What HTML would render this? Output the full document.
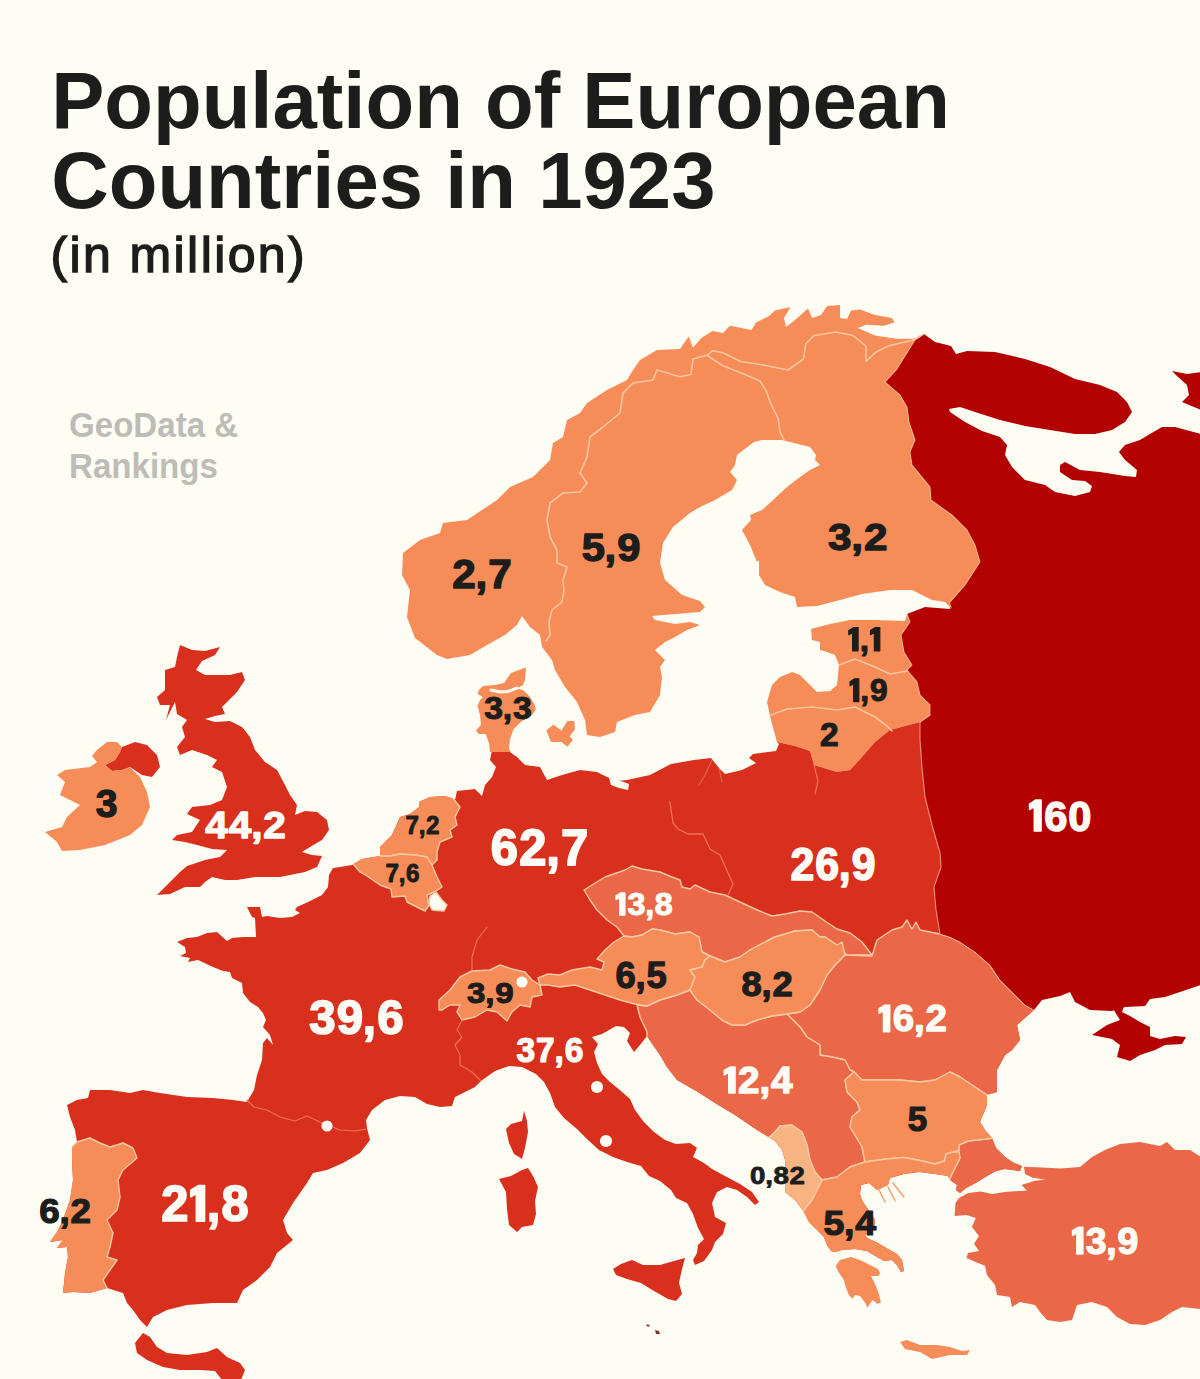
<!DOCTYPE html>
<html><head><meta charset="utf-8"><title>Population of European Countries in 1923</title>
<style>
html,body{margin:0;padding:0;background:#FEFDF4;}
body{width:1200px;height:1379px;position:relative;overflow:hidden;font-family:"Liberation Sans",sans-serif;}
svg text{font-family:"Liberation Sans",sans-serif;font-weight:bold;}
.t1{position:absolute;left:51.2px;top:61.4px;font-size:79.7px;line-height:80px;font-weight:bold;color:#1d1d1b;white-space:nowrap;letter-spacing:0px;}
.t2{position:absolute;left:50.5px;top:226.5px;font-size:50px;line-height:56px;color:#1d1d1b;white-space:nowrap;-webkit-text-stroke:1.4px #1d1d1b;letter-spacing:2.4px;}
.wm{position:absolute;left:69px;top:404.5px;font-size:34.6px;line-height:41px;font-weight:bold;color:#bebcb6;white-space:nowrap;transform-origin:0 0;transform:scaleX(0.957);}
</style></head><body>
<svg width="1200" height="1379" viewBox="0 0 1200 1379" style="position:absolute;left:0;top:0">
<defs><clipPath id="ml"><path d="M777 742 L795 746 L810 751 L814 765 L837 772 L850 770 L862 757 L875 742 L890 730 L920 722 L920 722 L920 740 L922 768 L925 797 L932 825 L940 853 L941 867 L934 887 L936 910 L940 934 L940 934 L950 937 L960 942 L975 952 L990 965 L1000 980 L1012 992 L1025 1005 L1034 1010 L1017 1025 L1020 1040 L1012 1050 L1005 1055 L997 1070 L997 1092 L987 1095 L987 1105 L980 1122 L985 1130 L992 1138 L996 1148 L1005 1157 L1014 1163 L1022 1166 L1020 1171 L1005 1169 L996 1171 L987 1176 L979 1181 L972 1185 L966 1188 L960 1193 L956 1190 L957 1185 L950 1180 L948 1176 L935 1174 L919 1172 L904 1174 L890 1178 L888 1185 L877 1190 L869 1183 L861 1185 L860 1194 L862 1200 L865 1205 L870 1212 L875 1220 L874 1228 L868 1234 L865 1235 L867 1238 L878 1243 L888 1249 L897 1254 L902 1260 L904 1271 L901 1272 L897 1265 L892 1260 L884 1261 L877 1257 L867 1251 L855 1249 L842 1250 L835 1252 L831 1251 L827 1245 L824 1237 L817 1230 L809 1222 L804 1212 L795 1200 L785 1192 L786 1180 L785 1160 L782 1150 L775 1141 L757 1130 L735 1115 L715 1103 L698 1092 L677 1080 L667 1067 L660 1055 L653 1045 L647 1036 L640 1045 L634 1052 L627 1041 L630 1033 L624 1027 L616 1026 L602 1034 L592 1037 L598 1044 L594 1052 L597 1063 L602 1074 L610 1082 L621 1091 L630 1099 L635 1110 L643 1121 L654 1132 L665 1140 L676 1144 L690 1143 L697 1148 L693 1157 L704 1163 L712 1169 L725 1176 L740 1184 L752 1192 L759 1202 L755 1205 L747 1197 L737 1190 L727 1187 L717 1192 L712 1203 L715 1217 L726 1223 L723 1234 L715 1242 L712 1250 L704 1261 L695 1265 L693 1260 L697 1253 L698 1245 L704 1239 L698 1228 L693 1214 L687 1203 L676 1198 L671 1190 L660 1181 L649 1176 L641 1166 L627 1162 L613 1157 L599 1150 L588 1140 L577 1129 L564 1118 L555 1107 L550 1093 L544 1082 L536 1074 L522 1067 L509 1066 L495 1071 L481 1081 L475 1087 L465 1092 L455 1097 L452 1106 L440 1107 L427 1104 L415 1097 L400 1096 L385 1100 L372 1110 L366 1120 L367 1128 L370 1140 L360 1153 L343 1163 L327 1170 L313 1173 L307 1183 L293 1203 L283 1220 L287 1233 L293 1240 L277 1253 L270 1267 L257 1280 L243 1290 L237 1303 L213 1303 L187 1305 L167 1310 L153 1317 L147 1327 L140 1320 L133 1310 L127 1303 L123 1293 L107 1288 L90 1293 L73 1292 L63 1293 L65 1273 L68 1257 L67 1247 L57 1248 L63 1240 L50 1242 L57 1232 L63 1220 L70 1200 L73 1180 L72 1160 L72 1147 L77 1142 L75 1130 L70 1117 L67 1105 L77 1100 L88 1098 L90 1090 L110 1090 L130 1093 L143 1090 L160 1093 L187 1097 L213 1098 L233 1100 L247 1102 L254 1090 L257 1075 L262 1060 L263 1043 L267 1038 L273 1045 L270 1035 L263 1027 L266 1020 L263 1013 L258 1007 L250 1002 L243 993 L242 983 L232 978 L230 972 L223 971 L213 967 L198 960 L188 962 L190 958 L180 956 L186 953 L185 947 L177 942 L187 938 L197 937 L207 933 L217 932 L227 941 L232 938 L243 937 L256 937 L255 918 L252 917 L247 907 L260 907 L262 917 L267 916 L280 918 L292 917 L300 913 L295 910 L297 907 L308 902 L322 895 L328 887 L329 875 L333 868 L340 867 L352 865 L362 859 L380 856 L380 847 L392 835 L400 817 L410 814 L419 807 L419 802 L430 797 L445 796 L457 800 L460 807 L455 800 L457 791 L475 789 L482 796 L485 785 L492 777 L496 767 L490 760 L492 750 L507 750 L517 757 L525 765 L540 767 L547 780 L562 775 L580 770 L597 772 L607 777 L617 781 L627 780 L650 775 L671 764 L694 760 L711 758 L719 768 L725 774 L742 770 L756 763 L749 758 L753 754 L776 751 L779 744Z"/></clipPath></defs>
<path d="M924 334 L935 342 L951 346 L956 354 L967 351 L995 352 L1025 359 L1050 367 L1075 379 L1100 385 L1117 392 L1127 402 L1132 412 L1125 422 L1112 430 L1095 434 L1075 434 L1050 430 L1025 426 L1000 420 L975 412 L960 407 L949 409 L950 412 L965 422 L982 431 L1000 437 L1007 445 L1005 455 L1012 467 L1025 480 L1045 485 L1055 492 L1075 496 L1090 492 L1092 486 L1085 481 L1072 480 L1060 472 L1060 465 L1065 462 L1080 470 L1100 472 L1125 476 L1136 477 L1137 470 L1125 460 L1119 452 L1125 445 L1140 440 L1150 434 L1162 427 L1175 427 L1201 434 L1201 985 L1180 992 L1165 997 L1150 999 L1145 1006 L1125 1007 L1112 1011 L1090 1010 L1075 1002 L1070 992 L1060 996 L1042 1000 L1034 1010 L1025 1005 L1012 992 L1000 980 L990 965 L975 952 L960 942 L950 937 L940 934 L936 910 L934 887 L941 867 L940 853 L932 825 L925 797 L922 768 L920 740 L920 722 L930 715 L930 705 L920 695 L917 682 L907 670 L912 665 L904 652 L901 635 L910 622 L907 614 L925 607 L950 609 L950 602 L965 585 L980 562 L975 545 L967 530 L952 515 L931 500 L930 487 L912 465 L910 452 L915 440 L909 422 L907 407 L900 395 L885 382 L897 369 L915 340 L924 334Z" fill="#B30000"/>
<path d="M1201 372 L1187 374 L1172 371 L1177 376 L1187 385 L1189 395 L1182 402 L1201 410Z" fill="#B30000"/>
<path d="M1113 1008 L1115 1012 L1120 1020 L1107 1025 L1092 1035 L1112 1039 L1120 1045 L1117 1057 L1130 1061 L1140 1055 L1155 1050 L1165 1045 L1182 1044 L1186 1037 L1175 1036 L1160 1039 L1150 1036 L1150 1027 L1140 1022 L1130 1016 L1122 1012 L1124 1006Z" fill="#B30000"/>
<path d="M415 638 L407 617 L410 590 L402 575 L403 553 L420 540 L440 533 L443 523 L467 520 L497 500 L510 487 L533 477 L550 460 L553 443 L563 437 L567 420 L580 413 L587 403 L607 390 L627 380 L633 370 L640 360 L657 350 L680 349 L688.7 336.6 L693 347.4 L701.7 337.7 L712.5 331 L723 333 L730 325.8 L751.5 330 L756 322.5 L769 316 L775 310.6 L790.5 307 L784 318 L786 327 L795 320 L808 308.4 L812 318 L821 315 L827 306 L840 305 L840 318 L847 319 L851 310.6 L860 309.5 L875 315 L892 318 L894.5 322.5 L883.7 325.8 L866 324.7 L857.7 328 L875 335.5 L896.7 338.8 L914 338.8 L924 334 L915 340 L897 369 L885 382 L900 395 L907 407 L909 422 L915 440 L910 452 L912 465 L930 487 L931 500 L952 515 L967 530 L975 545 L980 562 L965 585 L950 602 L952 609 L945 602 L932 600 L912 590 L890 590 L862 594 L840 600 L817 606 L797 607 L795 597 L780 592 L765 585 L759 575 L759 560 L757 562 L750 545 L742 530 L751 520 L750 515 L762 510 L772 501 L787 487 L800 477 L810 470 L820 465 L815 460 L816 455 L810 447 L782 440 L762 440 L754 442 L737 455 L735 465 L730 472 L737 480 L732 490 L715 500 L700 507 L690 513 L673 527 L663 543 L660 563 L665 580 L682 595 L700 601 L705 607 L700 612 L675 614 L652 616 L655 620 L675 624 L690 622 L700 625 L687 630 L675 637 L665 642 L655 650 L665 660 L660 667 L662 677 L660 695 L650 712 L635 715 L617 722 L615 732 L600 737 L587 735 L585 720 L577 702 L565 687 L555 670 L552 660 L542 647 L540 635 L530 627 L522 616 L517 625 L505 635 L487 645 L470 655 L447 659 L437 655Z" fill="#F68D58"/>
<path d="M907 614 L905 621 L875 620 L850 620 L830 624 L811 629 L812 640 L820 642 L820 650 L827 652 L835 655 L839 665 L837 685 L830 691 L817 692 L810 685 L800 675 L792 672 L780 677 L772 685 L767 702 L771 720 L777 742 L777 742 L795 746 L810 751 L814 765 L837 772 L850 770 L862 757 L875 742 L890 730 L920 722 L930 715 L930 705 L920 695 L917 682 L907 670 L912 665 L904 652 L901 635 L910 622 L907 614Z" fill="#F68D58"/>
<path d="M777 742 L795 746 L810 751 L814 765 L837 772 L850 770 L862 757 L875 742 L890 730 L920 722 L920 722 L920 740 L922 768 L925 797 L932 825 L940 853 L941 867 L934 887 L936 910 L940 934 L940 934 L950 937 L960 942 L975 952 L990 965 L1000 980 L1012 992 L1025 1005 L1034 1010 L1017 1025 L1020 1040 L1012 1050 L1005 1055 L997 1070 L997 1092 L987 1095 L987 1105 L980 1122 L985 1130 L992 1138 L996 1148 L1005 1157 L1014 1163 L1022 1166 L1020 1171 L1005 1169 L996 1171 L987 1176 L979 1181 L972 1185 L966 1188 L960 1193 L956 1190 L957 1185 L950 1180 L948 1176 L935 1174 L919 1172 L904 1174 L890 1178 L888 1185 L877 1190 L869 1183 L861 1185 L860 1194 L862 1200 L865 1205 L870 1212 L875 1220 L874 1228 L868 1234 L865 1235 L867 1238 L878 1243 L888 1249 L897 1254 L902 1260 L904 1271 L901 1272 L897 1265 L892 1260 L884 1261 L877 1257 L867 1251 L855 1249 L842 1250 L835 1252 L831 1251 L827 1245 L824 1237 L817 1230 L809 1222 L804 1212 L795 1200 L785 1192 L786 1180 L785 1160 L782 1150 L775 1141 L757 1130 L735 1115 L715 1103 L698 1092 L677 1080 L667 1067 L660 1055 L653 1045 L647 1036 L640 1045 L634 1052 L627 1041 L630 1033 L624 1027 L616 1026 L602 1034 L592 1037 L598 1044 L594 1052 L597 1063 L602 1074 L610 1082 L621 1091 L630 1099 L635 1110 L643 1121 L654 1132 L665 1140 L676 1144 L690 1143 L697 1148 L693 1157 L704 1163 L712 1169 L725 1176 L740 1184 L752 1192 L759 1202 L755 1205 L747 1197 L737 1190 L727 1187 L717 1192 L712 1203 L715 1217 L726 1223 L723 1234 L715 1242 L712 1250 L704 1261 L695 1265 L693 1260 L697 1253 L698 1245 L704 1239 L698 1228 L693 1214 L687 1203 L676 1198 L671 1190 L660 1181 L649 1176 L641 1166 L627 1162 L613 1157 L599 1150 L588 1140 L577 1129 L564 1118 L555 1107 L550 1093 L544 1082 L536 1074 L522 1067 L509 1066 L495 1071 L481 1081 L475 1087 L465 1092 L455 1097 L452 1106 L440 1107 L427 1104 L415 1097 L400 1096 L385 1100 L372 1110 L366 1120 L367 1128 L370 1140 L360 1153 L343 1163 L327 1170 L313 1173 L307 1183 L293 1203 L283 1220 L287 1233 L293 1240 L277 1253 L270 1267 L257 1280 L243 1290 L237 1303 L213 1303 L187 1305 L167 1310 L153 1317 L147 1327 L140 1320 L133 1310 L127 1303 L123 1293 L107 1288 L90 1293 L73 1292 L63 1293 L65 1273 L68 1257 L67 1247 L57 1248 L63 1240 L50 1242 L57 1232 L63 1220 L70 1200 L73 1180 L72 1160 L72 1147 L77 1142 L75 1130 L70 1117 L67 1105 L77 1100 L88 1098 L90 1090 L110 1090 L130 1093 L143 1090 L160 1093 L187 1097 L213 1098 L233 1100 L247 1102 L254 1090 L257 1075 L262 1060 L263 1043 L267 1038 L273 1045 L270 1035 L263 1027 L266 1020 L263 1013 L258 1007 L250 1002 L243 993 L242 983 L232 978 L230 972 L223 971 L213 967 L198 960 L188 962 L190 958 L180 956 L186 953 L185 947 L177 942 L187 938 L197 937 L207 933 L217 932 L227 941 L232 938 L243 937 L256 937 L255 918 L252 917 L247 907 L260 907 L262 917 L267 916 L280 918 L292 917 L300 913 L295 910 L297 907 L308 902 L322 895 L328 887 L329 875 L333 868 L340 867 L352 865 L362 859 L380 856 L380 847 L392 835 L400 817 L410 814 L419 807 L419 802 L430 797 L445 796 L457 800 L460 807 L455 800 L457 791 L475 789 L482 796 L485 785 L492 777 L496 767 L490 760 L492 750 L507 750 L517 757 L525 765 L540 767 L547 780 L562 775 L580 770 L597 772 L607 777 L617 781 L627 780 L650 775 L671 764 L694 760 L711 758 L719 768 L725 774 L742 770 L756 763 L749 758 L753 754 L776 751 L779 744Z" fill="#D9301E"/>
<g clip-path="url(#ml)">
<path d="M872 956 L877 940 L892 930 L902 927 L907 920 L912 929 L916 922 L920 930 L940 934 L950 937 L960 942 L975 952 L990 965 L1000 980 L1012 992 L1025 1005 L1034 1010 L1050 1020 L1010 1098 L987 1095 L975 1087 L960 1077 L950 1072 L935 1080 L920 1082 L900 1080 L880 1080 L862 1080 L854 1072 L850 1070 L845 1060 L832 1057 L820 1055 L820 1045 L807 1037 L800 1027 L787 1014 L800 1012 L810 1005 L820 990 L827 975 L835 965 L845 955Z" fill="#EA6848" stroke="#FCC8A4" stroke-width="1.4" stroke-linejoin="round"/>
<path d="M637 1005 L647 1006 L660 1000 L677 995 L690 990 L697 1000 L710 1010 L722 1020 L732 1025 L745 1025 L757 1020 L772 1016 L787 1014 L800 1027 L807 1037 L820 1045 L820 1055 L832 1057 L845 1060 L850 1070 L854 1072 L845 1080 L847 1092 L857 1102 L860 1110 L852 1117 L850 1127 L855 1135 L862 1147 L865 1162 L850 1167 L837 1177 L822 1180 L815 1172 L810 1160 L807 1145 L802 1132 L792 1125 L780 1126 L775 1132 L760 1145 L690 1110 L650 1062 L647 1043 L647 1036 L647 1032 L640 1017Z" fill="#EA6848" stroke="#FCC8A4" stroke-width="1.4" stroke-linejoin="round"/>
<path d="M584 890 L592 885 L605 877 L625 870 L632 866 L642 869 L660 872 L672 877 L680 880 L682 887 L690 889 L695 885 L710 892 L725 895 L740 902 L755 909 L772 916 L785 914 L800 911 L812 912 L825 921 L837 929 L850 933 L862 942 L872 955 L862 955 L847 955 L837 945 L825 937 L820 937 L812 930 L795 931 L785 934 L775 937 L765 942 L750 950 L740 957 L725 962 L710 956 L702 952 L699 937 L690 932 L675 934 L660 930 L652 929 L642 935 L632 937 L624 936 L617 927 L607 920 L597 910 L590 900Z" fill="#EA6848" stroke="#FCC8A4" stroke-width="1.4" stroke-linejoin="round"/>
<path d="M959 1152 L959 1145 L968 1141 L987 1139 L992 1138 L1005 1130 L1040 1165 L1024 1180 L957 1200 L949 1183 L950 1178 L955.5 1167 L960 1158Z" fill="#EA6848" stroke="#FCC8A4" stroke-width="1.4" stroke-linejoin="round"/>
<path d="M460 807 L455 817 L457 825 L450 830 L452 837 L440 842 L437 852 L437 860 L432 865 L427 857 L415 855 L400 854 L390 856 L380 856 L365 852 L385 800 L440 785 L452 797Z" fill="#F68D58" stroke="#FCC8A4" stroke-width="1.4" stroke-linejoin="round"/>
<path d="M354 865 L360 872 L367 876 L380 885 L391 889 L392 897 L405 896 L407 902 L415 906 L425 911 L429 905 L427 895 L436 891 L442 887 L437 877 L432 865 L427 857 L415 855 L400 854 L390 856 L380 856 L370 845 L345 858Z" fill="#F68D58" stroke="#FCC8A4" stroke-width="1.4" stroke-linejoin="round"/>
<path d="M430 896 L436 892 L442 900 L447 905 L444 911 L432 910 L429 904Z" fill="#FEFDF4" stroke="#FCC8A4" stroke-width="1.4" stroke-linejoin="round"/>
<path d="M439 1010 L439 1000 L450 990 L460 977 L472 971 L490 970 L500 965 L512 969 L525 972 L532 980 L540 985 L542 995 L532 997 L530 1007 L520 1005 L512 1012 L507 1021 L497 1012 L487 1010 L475 1017 L462 1020 L457 1012 L460 1005 L450 1005 L442 1010Z" fill="#F68D58" stroke="#FCC8A4" stroke-width="1.4" stroke-linejoin="round"/>
<path d="M538 978 L548 974 L560 975 L572 970 L590 967 L602 970 L604 962 L597 959 L605 950 L614 942 L624 936 L632 937 L642 935 L652 929 L660 930 L675 934 L690 932 L699 937 L702 952 L710 956 L705 960 L702 967 L690 970 L695 977 L690 990 L677 995 L660 1000 L647 1006 L635 1004 L620 1000 L605 995 L590 990 L575 985 L560 987 L548 985 L540 985Z" fill="#F68D58" stroke="#FCC8A4" stroke-width="1.4" stroke-linejoin="round"/>
<path d="M702 967 L705 960 L710 956 L725 962 L740 957 L750 950 L765 942 L775 937 L785 934 L795 931 L812 930 L820 937 L825 937 L837 945 L842 942 L845 955 L835 965 L827 975 L820 990 L810 1005 L800 1012 L787 1014 L772 1016 L757 1020 L745 1025 L732 1025 L722 1020 L710 1010 L697 1000 L690 990 L695 977 L690 970Z" fill="#F68D58" stroke="#FCC8A4" stroke-width="1.4" stroke-linejoin="round"/>
<path d="M854 1072 L845 1080 L847 1092 L857 1102 L860 1110 L852 1117 L850 1127 L855 1135 L862 1147 L865 1162 L886 1159 L904 1157.5 L922.5 1161 L935 1164 L944.5 1161 L946 1154 L953.7 1152 L959 1150 L959 1145 L968 1141 L987 1139 L992 1138 L1005 1135 L1005 1092 L987 1095 L975 1087 L960 1077 L950 1072 L935 1080 L920 1082 L900 1080 L880 1080 L862 1080Z" fill="#F68D58" stroke="#FCC8A4" stroke-width="1.4" stroke-linejoin="round"/>
<path d="M822 1180 L837 1177 L850 1167 L865 1162 L886 1159 L904 1157.5 L922.5 1161 L935 1164 L944.5 1161 L946 1154 L953.7 1152 L959 1152 L960 1158 L955.5 1167 L950 1178 L950 1181 L945 1200 L920 1290 L800 1260 L800 1212 L804 1210 L812 1200 L817 1190Z" fill="#F68D58" stroke="#FCC8A4" stroke-width="1.4" stroke-linejoin="round"/>
<path d="M775 1132 L780 1126 L792 1125 L802 1132 L807 1145 L810 1160 L815 1172 L822 1180 L817 1190 L812 1200 L804 1210 L790 1218 L768 1190 L768 1140Z" fill="#F8B383" stroke="#FCC8A4" stroke-width="1.4" stroke-linejoin="round"/>
<path d="M72 1147 L77 1142 L90 1138 L100 1143 L110 1147 L123 1143 L133 1148 L137 1158 L123 1170 L118 1180 L120 1197 L117 1210 L107 1220 L113 1233 L110 1247 L107 1257 L117 1260 L110 1270 L103 1280 L107 1288 L107 1302 L40 1302 L40 1140Z" fill="#F68D58" stroke="#FCC8A4" stroke-width="1.4" stroke-linejoin="round"/>
</g>
<path d="M180 645 L192 650 L205 651 L220 647 L215 655 L202 661 L196 670 L205 675 L230 675 L242 672 L245 680 L237 692 L227 702 L222 707 L225 714 L215 716 L205 719 L215 722 L230 721 L242 727 L250 737 L255 750 L265 762 L277 770 L285 785 L290 795 L297 805 L295 815 L305 811 L317 812 L327 820 L329 830 L322 840 L310 847 L302 852 L312 855 L322 856 L317 867 L305 872 L280 877 L255 877 L237 880 L225 880 L212 877 L205 882 L200 887 L185 887 L170 894 L157 895 L167 885 L180 872 L187 866 L205 860 L220 857 L227 850 L212 849 L197 845 L185 842 L172 840 L177 835 L192 832 L200 820 L187 814 L192 807 L210 805 L222 800 L227 787 L222 772 L212 767 L217 760 L207 755 L192 750 L180 755 L177 747 L185 737 L182 727 L187 720 L177 714 L175 702 L166 720 L170 705 L160 705 L157 697 L165 690 L165 680 L165 670 L175 667 L177 657Z" fill="#D9301E"/>
<path d="M122 747 L135 742 L147 745 L157 755 L160 767 L152 777 L142 775 L130 767 L122 770 L112 771 L105 765 L115 760 L120 752Z" fill="#D9301E"/>
<path d="M97 750 L107 742 L117 742 L122 747 L120 752 L115 760 L105 765 L112 771 L122 770 L130 767 L140 777 L147 792 L150 807 L142 825 L130 835 L105 845 L80 850 L62 851 L57 842 L45 832 L62 827 L67 817 L80 805 L60 795 L65 782 L57 775 L65 770 L90 767 L97 762 L92 756Z" fill="#F68D58"/>
<path d="M526 667.5 L511 673 L504 683 L495 685 L483 686 L479 690 L477.5 694 L483 697 L480 700 L477.5 706 L480 715 L481 724.7 L476 730.5 L478.7 734 L485.7 734 L489 743 L490 752 L511 752 L509 749 L510 738.7 L513.7 729 L520.7 722 L532 715 L535.8 709.5 L534.7 705 L530 696.7 L523 690 L517 688.5 L523 685 L525 680Z" fill="#F68D58"/>
<path d="M546.3 730.5 L553.3 724.7 L561.5 730.5 L567.3 721 L574.3 721 L575 729.3 L569.7 736.3 L573 739.8 L567.3 746.8 L561.5 742 L551 742 L548.7 736.3Z" fill="#F68D58"/>
<path d="M524 1111 L527 1121 L528 1132 L525 1148 L522 1159 L514 1154 L509 1143 L506 1129 L511 1124 L522 1121Z" fill="#D9301E"/>
<path d="M499 1179 L511 1176 L522 1170 L528 1168 L533 1176 L538 1187 L535 1201 L536 1214 L533 1225 L522 1227 L517 1232 L509 1225 L507 1209 L506 1192Z" fill="#D9301E"/>
<path d="M613 1269 L621 1264 L632 1260 L643 1265 L660 1265 L674 1261 L685 1258 L682 1269 L679 1283 L682 1294 L676 1301 L668 1299 L654 1291 L641 1283 L627 1279 L616 1275Z" fill="#D9301E"/>
<path d="M835.6 1266 L840 1260 L851 1257 L860 1260 L870 1265 L877.5 1268.8 L880 1272.5 L878.8 1276 L871 1276 L875 1283.8 L878.8 1293.8 L881 1302.5 L877.5 1303.8 L872.5 1300 L867.5 1307.5 L865 1302.5 L860 1296 L855 1295 L852.5 1298.8 L848.8 1295 L846 1287.5 L843.8 1280 L838.8 1272.5Z" fill="#F68D58"/>
<path d="M900 1342 L907 1340 L920 1345 L937 1345 L950 1347 L962 1351 L970 1350 L967 1355 L950 1355 L932 1359 L920 1352 L905 1349Z" fill="#F68D58"/>
<path d="M1201 1157 L1190 1150 L1175 1150 L1167 1142 L1160 1146 L1140 1142 L1120 1144 L1105 1150 L1092 1157 L1080 1167 L1060 1168.5 L1042 1167.6 L1024 1166.7 L1025 1174 L1032.5 1177.7 L1045 1179.5 L1034 1181 L1021.5 1185 L1027 1190.5 L1005 1192 L992 1194 L981 1191.4 L968 1193 L959 1198 L955.5 1203 L954.6 1216 L966.5 1215 L975.7 1218 L972 1227 L979 1236 L974 1243.7 L979 1251 L968 1253 L966.5 1258 L975.7 1262 L985 1265.7 L987 1275 L995 1285 L997 1295 L1010 1297 L1012 1307 L1020 1302 L1035 1305 L1040 1312 L1047 1320 L1060 1322 L1072 1320 L1077 1305 L1092 1302 L1107 1307 L1117 1317 L1130 1324 L1145 1325 L1160 1320 L1172 1312 L1182 1307 L1201 1309Z" fill="#EA6848"/>
<path d="M143 1333 L150 1337 L157 1347 L167 1353 L187 1355 L207 1352 L217 1348 L227 1357 L240 1363 L245 1370 L241 1380 L222 1380 L215 1371 L200 1370 L180 1370 L163 1367 L147 1360 L137 1353 L135 1343Z" fill="#D9301E"/>
<path d="M957 1188 L958 1187 L959 1188Z" fill="#EA6848"/>
<path d="M655 1330 L659 1331 L660 1334 L656 1334Z" fill="#7A3A28"/>
<path d="M647 1324 L650 1325 L649 1327 L646 1326Z" fill="#9A5A48"/>
<path d="M609 778 L611 785 L619 788 L628 790 L629 784 L621 781Z" fill="#FEFDF4"/>
<path d="M708 355 L693 359 L691 374.5 L680 376.7 L657 370 L653 380 L633 383 L623 393 L620 413 L603 427 L590 437 L587 457 L580 473 L587 483 L580 492 L563 493 L550 503 L547 520 L550 537 L557 550 L557 563 L567 567 L563 580 L564 590 L562 602 L552 610 L549 622 L550 635 L546 641" fill="none" stroke="#FCC8A4" stroke-width="1.6" stroke-opacity="0.95" stroke-linejoin="round" stroke-linecap="round"/>
<path d="M708 355 L712.5 350.7 L723 352.8 L740.7 361.5 L762 364.8 L788 370 L803.5 359 L805.7 344 L814 335.5 L836 332 L853 335.5 L866 346 L866 361.5 L875 352.8 L888 346 L914 339.8 L922 335" fill="none" stroke="#FCC8A4" stroke-width="1.6" stroke-opacity="0.95" stroke-linejoin="round" stroke-linecap="round"/>
<path d="M708 356 L723 365.8 L745 374.5 L760 381 L766.7 391.8 L770 402 L778 418 L780 432 L784 440" fill="none" stroke="#FCC8A4" stroke-width="1.6" stroke-opacity="0.95" stroke-linejoin="round" stroke-linecap="round"/>
<path d="M839 665 L855 659 L875 667 L890 674 L907 671" fill="none" stroke="#FCC8A4" stroke-width="1.6" stroke-opacity="0.95" stroke-linejoin="round" stroke-linecap="round"/>
<path d="M771 715 L787 709 L812 707 L837 710 L855 707 L875 717 L887 726 L892 731" fill="none" stroke="#FCC8A4" stroke-width="1.6" stroke-opacity="0.95" stroke-linejoin="round" stroke-linecap="round"/>
<path d="M670 802 L673 823 L678 829 L688 834 L703 834 L710 849 L720 855 L733 884 L728 895" fill="none" stroke="#F0705A" stroke-width="1.3" stroke-opacity="1" stroke-linejoin="round" stroke-linecap="round"/>
<path d="M712 760 L705 775 L699 785" fill="none" stroke="#F0705A" stroke-width="1.1" stroke-opacity="0.8" stroke-linejoin="round" stroke-linecap="round"/>
<path d="M719 768 L722 782" fill="none" stroke="#F0705A" stroke-width="1.1" stroke-opacity="0.8" stroke-linejoin="round" stroke-linecap="round"/>
<path d="M814 765 L818 781 L815 794" fill="none" stroke="#F0705A" stroke-width="1.2" stroke-opacity="1" stroke-linejoin="round" stroke-linecap="round"/>
<path d="M940 934 L936 910 L934 887 L941 867 L940 853 L932 825 L925 797 L922 768 L920 740 L920 722 L930 715" fill="none" stroke="#F08A78" stroke-width="1.2" stroke-opacity="0.9" stroke-linejoin="round" stroke-linecap="round"/>
<path d="M487 927 L477 940 L472 957 L472 970" fill="none" stroke="#F0705A" stroke-width="1.2" stroke-opacity="1" stroke-linejoin="round" stroke-linecap="round"/>
<path d="M462 1020 L457 1030 L462 1037 L455 1045 L460 1055 L460 1065 L472 1072 L481 1081" fill="none" stroke="#F0705A" stroke-width="1.2" stroke-opacity="1" stroke-linejoin="round" stroke-linecap="round"/>
<path d="M247 1100 L254 1107 L267 1110 L280 1117 L295 1121 L307 1116 L320 1122 L340 1130 L355 1131 L366 1129" fill="none" stroke="#F0705A" stroke-width="1.2" stroke-opacity="1" stroke-linejoin="round" stroke-linecap="round"/>
<path d="M879 1190 L885 1202" fill="none" stroke="#F68D58" stroke-width="1.5" stroke-opacity="0.85" stroke-linejoin="round" stroke-linecap="round"/>
<path d="M888 1187 L895 1200.5" fill="none" stroke="#F68D58" stroke-width="1.5" stroke-opacity="0.85" stroke-linejoin="round" stroke-linecap="round"/>
<path d="M893 1183 L904 1197" fill="none" stroke="#F68D58" stroke-width="1.5" stroke-opacity="0.85" stroke-linejoin="round" stroke-linecap="round"/>
<path d="M491 690 L500 692 L508 691.5 L517 688" fill="none" stroke="#FEFDF4" stroke-width="3" stroke-opacity="1" stroke-linejoin="round" stroke-linecap="round"/>
<path d="M924 334 L915 340 L897 369 L885 382 L900 395 L907 407 L909 422 L915 440 L910 452 L912 465 L930 487 L931 500 L952 515 L967 530 L975 545 L980 562 L965 585 L950 602" fill="none" stroke="#FCC8A4" stroke-width="1.2" stroke-opacity="0.55" stroke-linejoin="round" stroke-linecap="round"/>
<path d="M920 722 L930 715 L930 705 L920 695 L917 682 L907 670 L912 665 L904 652 L901 635 L910 622 L907 614" fill="none" stroke="#FCC8A4" stroke-width="1.2" stroke-opacity="0.55" stroke-linejoin="round" stroke-linecap="round"/>
<circle cx="327" cy="1126" r="5.6" fill="#FEFDF4"/>
<circle cx="522" cy="982" r="5.6" fill="#FEFDF4"/>
<circle cx="597" cy="1087" r="6.1" fill="#FEFDF4"/>
<circle cx="606" cy="1141" r="6.1" fill="#FEFDF4"/>
<g transform="translate(482.00 0) scale(1.0508 1)">
<text x="-17.14" y="588.30" font-size="40.22" fill="#1d1d1b" stroke="#1d1d1b" stroke-width="1.41" stroke-linejoin="round" text-anchor="middle">2</text>
<text x="-0.58" y="588.30" font-size="40.22" fill="#1d1d1b" stroke="#1d1d1b" stroke-width="1.41" stroke-linejoin="round" text-anchor="middle">,</text>
<text x="17.14" y="588.30" font-size="40.22" fill="#1d1d1b" stroke="#1d1d1b" stroke-width="1.41" stroke-linejoin="round" text-anchor="middle">7</text>
</g>
<g transform="translate(611.00 0) scale(1.0658 1)">
<text x="-16.66" y="561.40" font-size="39.11" fill="#1d1d1b" stroke="#1d1d1b" stroke-width="1.37" stroke-linejoin="round" text-anchor="middle">5</text>
<text x="-0.56" y="561.40" font-size="39.11" fill="#1d1d1b" stroke="#1d1d1b" stroke-width="1.37" stroke-linejoin="round" text-anchor="middle">,</text>
<text x="16.66" y="561.40" font-size="39.11" fill="#1d1d1b" stroke="#1d1d1b" stroke-width="1.37" stroke-linejoin="round" text-anchor="middle">9</text>
</g>
<g transform="translate(857.80 0) scale(1.1209 1)">
<text x="-16.06" y="550.00" font-size="37.71" fill="#1d1d1b" stroke="#1d1d1b" stroke-width="1.32" stroke-linejoin="round" text-anchor="middle">3</text>
<text x="-0.54" y="550.00" font-size="37.71" fill="#1d1d1b" stroke="#1d1d1b" stroke-width="1.32" stroke-linejoin="round" text-anchor="middle">,</text>
<text x="16.06" y="550.00" font-size="37.71" fill="#1d1d1b" stroke="#1d1d1b" stroke-width="1.32" stroke-linejoin="round" text-anchor="middle">2</text>
</g>
<g transform="translate(864.30 0) scale(1.0234 1)">
<path d="M-6.06 627.55 L-10.25 627.55 L-15.14 630.58 L-15.14 634.77 L-11.42 632.68 L-11.42 650.85 L-6.06 650.85Z" fill="#1d1d1b" stroke="#1d1d1b" stroke-width="1.13897" stroke-linejoin="round"/>
<text x="0.00" y="650.55" font-size="32.54" fill="#1d1d1b" stroke="#1d1d1b" stroke-width="1.14" stroke-linejoin="round" text-anchor="middle">,</text>
<path d="M15.15 627.55 L10.95 627.55 L6.06 630.58 L6.06 634.77 L9.79 632.68 L9.79 650.85 L15.15 650.85Z" fill="#1d1d1b" stroke="#1d1d1b" stroke-width="1.13897" stroke-linejoin="round"/>
</g>
<g transform="translate(868.40 0) scale(0.9963 1)">
<path d="M-9.58 678.80 L-13.68 678.80 L-18.47 681.76 L-18.47 685.87 L-14.82 683.82 L-14.82 701.60 L-9.58 701.60Z" fill="#1d1d1b" stroke="#1d1d1b" stroke-width="1.11453" stroke-linejoin="round"/>
<text x="-3.65" y="701.30" font-size="31.84" fill="#1d1d1b" stroke="#1d1d1b" stroke-width="1.11" stroke-linejoin="round" text-anchor="middle">,</text>
<text x="10.37" y="701.30" font-size="31.84" fill="#1d1d1b" stroke="#1d1d1b" stroke-width="1.11" stroke-linejoin="round" text-anchor="middle">9</text>
</g>
<g transform="translate(829.30 0) scale(1.0000 1)">
<text x="0.00" y="746.20" font-size="33.52" fill="#1d1d1b" stroke="#1d1d1b" stroke-width="1.17" stroke-linejoin="round" text-anchor="middle">2</text>
</g>
<g transform="translate(508.00 0) scale(1.1005 1)">
<text x="-13.09" y="718.70" font-size="30.73" fill="#1d1d1b" stroke="#1d1d1b" stroke-width="1.08" stroke-linejoin="round" text-anchor="middle">3</text>
<text x="-0.44" y="718.70" font-size="30.73" fill="#1d1d1b" stroke="#1d1d1b" stroke-width="1.08" stroke-linejoin="round" text-anchor="middle">,</text>
<text x="13.09" y="718.70" font-size="30.73" fill="#1d1d1b" stroke="#1d1d1b" stroke-width="1.08" stroke-linejoin="round" text-anchor="middle">3</text>
</g>
<g transform="translate(106.70 0) scale(1.0000 1)">
<text x="0.00" y="816.90" font-size="39.11" fill="#1d1d1b" stroke="#1d1d1b" stroke-width="1.37" stroke-linejoin="round" text-anchor="middle">3</text>
</g>
<g transform="translate(245.60 0) scale(1.1042 1)">
<text x="-26.30" y="838.35" font-size="36.73" fill="#FFFDF6" stroke="#FFFDF6" stroke-width="1.29" stroke-linejoin="round" text-anchor="middle">4</text>
<text x="-5.00" y="838.35" font-size="36.73" fill="#FFFDF6" stroke="#FFFDF6" stroke-width="1.29" stroke-linejoin="round" text-anchor="middle">4</text>
<text x="10.13" y="838.35" font-size="36.73" fill="#FFFDF6" stroke="#FFFDF6" stroke-width="1.29" stroke-linejoin="round" text-anchor="middle">,</text>
<text x="26.30" y="838.35" font-size="36.73" fill="#FFFDF6" stroke="#FFFDF6" stroke-width="1.29" stroke-linejoin="round" text-anchor="middle">2</text>
</g>
<g transform="translate(422.50 0) scale(0.9649 1)">
<text x="-10.71" y="833.70" font-size="25.14" fill="#1d1d1b" stroke="#1d1d1b" stroke-width="0.88" stroke-linejoin="round" text-anchor="middle">7</text>
<text x="-0.36" y="833.70" font-size="25.14" fill="#1d1d1b" stroke="#1d1d1b" stroke-width="0.88" stroke-linejoin="round" text-anchor="middle">,</text>
<text x="10.71" y="833.70" font-size="25.14" fill="#1d1d1b" stroke="#1d1d1b" stroke-width="0.88" stroke-linejoin="round" text-anchor="middle">2</text>
</g>
<g transform="translate(402.50 0) scale(0.9649 1)">
<text x="-10.71" y="881.70" font-size="25.14" fill="#1d1d1b" stroke="#1d1d1b" stroke-width="0.88" stroke-linejoin="round" text-anchor="middle">7</text>
<text x="-0.36" y="881.70" font-size="25.14" fill="#1d1d1b" stroke="#1d1d1b" stroke-width="0.88" stroke-linejoin="round" text-anchor="middle">,</text>
<text x="10.71" y="881.70" font-size="25.14" fill="#1d1d1b" stroke="#1d1d1b" stroke-width="0.88" stroke-linejoin="round" text-anchor="middle">6</text>
</g>
<g transform="translate(539.50 0) scale(0.9738 1)">
<text x="-36.00" y="864.70" font-size="50.28" fill="#FFFDF6" stroke="#FFFDF6" stroke-width="1.76" stroke-linejoin="round" text-anchor="middle">6</text>
<text x="-6.84" y="864.70" font-size="50.28" fill="#FFFDF6" stroke="#FFFDF6" stroke-width="1.76" stroke-linejoin="round" text-anchor="middle">2</text>
<text x="13.86" y="864.70" font-size="50.28" fill="#FFFDF6" stroke="#FFFDF6" stroke-width="1.76" stroke-linejoin="round" text-anchor="middle">,</text>
<text x="36.00" y="864.70" font-size="50.28" fill="#FFFDF6" stroke="#FFFDF6" stroke-width="1.76" stroke-linejoin="round" text-anchor="middle">7</text>
</g>
<g transform="translate(833.00 0) scale(0.9424 1)">
<text x="-32.50" y="879.95" font-size="45.39" fill="#FFFDF6" stroke="#FFFDF6" stroke-width="1.59" stroke-linejoin="round" text-anchor="middle">2</text>
<text x="-6.18" y="879.95" font-size="45.39" fill="#FFFDF6" stroke="#FFFDF6" stroke-width="1.59" stroke-linejoin="round" text-anchor="middle">6</text>
<text x="12.51" y="879.95" font-size="45.39" fill="#FFFDF6" stroke="#FFFDF6" stroke-width="1.59" stroke-linejoin="round" text-anchor="middle">,</text>
<text x="32.50" y="879.95" font-size="45.39" fill="#FFFDF6" stroke="#FFFDF6" stroke-width="1.59" stroke-linejoin="round" text-anchor="middle">9</text>
</g>
<g transform="translate(1060.00 0) scale(0.9599 1)">
<path d="M-19.68 800.00 L-25.27 800.00 L-31.77 804.03 L-31.77 809.61 L-26.81 806.82 L-26.81 831.00 L-19.68 831.00Z" fill="#FFFDF6" stroke="#FFFDF6" stroke-width="1.51536" stroke-linejoin="round"/>
<text x="-4.34" y="830.70" font-size="43.30" fill="#FFFDF6" stroke="#FFFDF6" stroke-width="1.52" stroke-linejoin="round" text-anchor="middle">6</text>
<text x="20.77" y="830.70" font-size="43.30" fill="#FFFDF6" stroke="#FFFDF6" stroke-width="1.52" stroke-linejoin="round" text-anchor="middle">0</text>
</g>
<g transform="translate(644.00 0) scale(1.0242 1)">
<path d="M-18.56 892.75 L-22.61 892.75 L-27.34 895.67 L-27.34 899.73 L-23.74 897.70 L-23.74 915.25 L-18.56 915.25Z" fill="#FFFDF6" stroke="#FFFDF6" stroke-width="1.09986" stroke-linejoin="round"/>
<text x="-7.42" y="914.95" font-size="31.42" fill="#FFFDF6" stroke="#FFFDF6" stroke-width="1.10" stroke-linejoin="round" text-anchor="middle">3</text>
<text x="5.51" y="914.95" font-size="31.42" fill="#FFFDF6" stroke="#FFFDF6" stroke-width="1.10" stroke-linejoin="round" text-anchor="middle">,</text>
<text x="19.35" y="914.95" font-size="31.42" fill="#FFFDF6" stroke="#FFFDF6" stroke-width="1.10" stroke-linejoin="round" text-anchor="middle">8</text>
</g>
<g transform="translate(641.00 0) scale(1.0020 1)">
<text x="-15.47" y="988.20" font-size="36.31" fill="#1d1d1b" stroke="#1d1d1b" stroke-width="1.27" stroke-linejoin="round" text-anchor="middle">6</text>
<text x="-0.52" y="988.20" font-size="36.31" fill="#1d1d1b" stroke="#1d1d1b" stroke-width="1.27" stroke-linejoin="round" text-anchor="middle">,</text>
<text x="15.47" y="988.20" font-size="36.31" fill="#1d1d1b" stroke="#1d1d1b" stroke-width="1.27" stroke-linejoin="round" text-anchor="middle">5</text>
</g>
<g transform="translate(767.00 0) scale(1.0137 1)">
<text x="-15.29" y="995.95" font-size="35.89" fill="#1d1d1b" stroke="#1d1d1b" stroke-width="1.26" stroke-linejoin="round" text-anchor="middle">8</text>
<text x="-0.51" y="995.95" font-size="35.89" fill="#1d1d1b" stroke="#1d1d1b" stroke-width="1.26" stroke-linejoin="round" text-anchor="middle">,</text>
<text x="15.29" y="995.95" font-size="35.89" fill="#1d1d1b" stroke="#1d1d1b" stroke-width="1.26" stroke-linejoin="round" text-anchor="middle">2</text>
</g>
<g transform="translate(490.30 0) scale(1.0965 1)">
<text x="-12.85" y="1002.70" font-size="30.17" fill="#1d1d1b" stroke="#1d1d1b" stroke-width="1.06" stroke-linejoin="round" text-anchor="middle">3</text>
<text x="-0.43" y="1002.70" font-size="30.17" fill="#1d1d1b" stroke="#1d1d1b" stroke-width="1.06" stroke-linejoin="round" text-anchor="middle">,</text>
<text x="12.85" y="1002.70" font-size="30.17" fill="#1d1d1b" stroke="#1d1d1b" stroke-width="1.06" stroke-linejoin="round" text-anchor="middle">9</text>
</g>
<g transform="translate(356.40 0) scale(0.9700 1)">
<text x="-35.00" y="1034.20" font-size="48.88" fill="#FFFDF6" stroke="#FFFDF6" stroke-width="1.71" stroke-linejoin="round" text-anchor="middle">3</text>
<text x="-6.65" y="1034.20" font-size="48.88" fill="#FFFDF6" stroke="#FFFDF6" stroke-width="1.71" stroke-linejoin="round" text-anchor="middle">9</text>
<text x="13.47" y="1034.20" font-size="48.88" fill="#FFFDF6" stroke="#FFFDF6" stroke-width="1.71" stroke-linejoin="round" text-anchor="middle">,</text>
<text x="35.00" y="1034.20" font-size="48.88" fill="#FFFDF6" stroke="#FFFDF6" stroke-width="1.71" stroke-linejoin="round" text-anchor="middle">6</text>
</g>
<g transform="translate(550.00 0) scale(0.9398 1)">
<text x="-25.60" y="1062.10" font-size="35.75" fill="#FFFDF6" stroke="#FFFDF6" stroke-width="1.25" stroke-linejoin="round" text-anchor="middle">3</text>
<text x="-4.86" y="1062.10" font-size="35.75" fill="#FFFDF6" stroke="#FFFDF6" stroke-width="1.25" stroke-linejoin="round" text-anchor="middle">7</text>
<text x="9.86" y="1062.10" font-size="35.75" fill="#FFFDF6" stroke="#FFFDF6" stroke-width="1.25" stroke-linejoin="round" text-anchor="middle">,</text>
<text x="25.60" y="1062.10" font-size="35.75" fill="#FFFDF6" stroke="#FFFDF6" stroke-width="1.25" stroke-linejoin="round" text-anchor="middle">6</text>
</g>
<g transform="translate(912.50 0) scale(1.0327 1)">
<path d="M-22.03 1005.05 L-26.83 1005.05 L-32.44 1008.52 L-32.44 1013.33 L-28.17 1010.92 L-28.17 1031.75 L-22.03 1031.75Z" fill="#FFFDF6" stroke="#FFFDF6" stroke-width="1.30517" stroke-linejoin="round"/>
<text x="-8.81" y="1031.45" font-size="37.29" fill="#FFFDF6" stroke="#FFFDF6" stroke-width="1.31" stroke-linejoin="round" text-anchor="middle">6</text>
<text x="6.54" y="1031.45" font-size="37.29" fill="#FFFDF6" stroke="#FFFDF6" stroke-width="1.31" stroke-linejoin="round" text-anchor="middle">,</text>
<text x="22.96" y="1031.45" font-size="37.29" fill="#FFFDF6" stroke="#FFFDF6" stroke-width="1.31" stroke-linejoin="round" text-anchor="middle">2</text>
</g>
<g transform="translate(758.00 0) scale(1.0684 1)">
<path d="M-21.45 1067.00 L-26.13 1067.00 L-31.59 1070.38 L-31.59 1075.06 L-27.43 1072.72 L-27.43 1093.00 L-21.45 1093.00Z" fill="#FFFDF6" stroke="#FFFDF6" stroke-width="1.27095" stroke-linejoin="round"/>
<text x="-8.58" y="1092.70" font-size="36.31" fill="#FFFDF6" stroke="#FFFDF6" stroke-width="1.27" stroke-linejoin="round" text-anchor="middle">2</text>
<text x="6.37" y="1092.70" font-size="36.31" fill="#FFFDF6" stroke="#FFFDF6" stroke-width="1.27" stroke-linejoin="round" text-anchor="middle">,</text>
<text x="22.36" y="1092.70" font-size="36.31" fill="#FFFDF6" stroke="#FFFDF6" stroke-width="1.27" stroke-linejoin="round" text-anchor="middle">4</text>
</g>
<g transform="translate(917.40 0) scale(1.0000 1)">
<text x="0.00" y="1131.20" font-size="34.92" fill="#1d1d1b" stroke="#1d1d1b" stroke-width="1.22" stroke-linejoin="round" text-anchor="middle">5</text>
</g>
<g transform="translate(777.50 0) scale(1.1634 1)">
<text x="-17.00" y="1183.70" font-size="23.74" fill="#1d1d1b" stroke="#1d1d1b" stroke-width="0.83" stroke-linejoin="round" text-anchor="middle">0</text>
<text x="-7.23" y="1183.70" font-size="23.74" fill="#1d1d1b" stroke="#1d1d1b" stroke-width="0.83" stroke-linejoin="round" text-anchor="middle">,</text>
<text x="3.23" y="1183.70" font-size="23.74" fill="#1d1d1b" stroke="#1d1d1b" stroke-width="0.83" stroke-linejoin="round" text-anchor="middle">8</text>
<text x="17.00" y="1183.70" font-size="23.74" fill="#1d1d1b" stroke="#1d1d1b" stroke-width="0.83" stroke-linejoin="round" text-anchor="middle">2</text>
</g>
<g transform="translate(849.80 0) scale(1.0737 1)">
<text x="-14.88" y="1234.70" font-size="34.92" fill="#1d1d1b" stroke="#1d1d1b" stroke-width="1.22" stroke-linejoin="round" text-anchor="middle">5</text>
<text x="-0.50" y="1234.70" font-size="34.92" fill="#1d1d1b" stroke="#1d1d1b" stroke-width="1.22" stroke-linejoin="round" text-anchor="middle">,</text>
<text x="14.88" y="1234.70" font-size="34.92" fill="#1d1d1b" stroke="#1d1d1b" stroke-width="1.22" stroke-linejoin="round" text-anchor="middle">4</text>
</g>
<g transform="translate(1105.00 0) scale(0.9981 1)">
<path d="M-22.11 1227.20 L-26.93 1227.20 L-32.56 1230.68 L-32.56 1235.51 L-28.27 1233.10 L-28.27 1254.00 L-22.11 1254.00Z" fill="#FFFDF6" stroke="#FFFDF6" stroke-width="1.31006" stroke-linejoin="round"/>
<text x="-8.84" y="1253.70" font-size="37.43" fill="#FFFDF6" stroke="#FFFDF6" stroke-width="1.31" stroke-linejoin="round" text-anchor="middle">3</text>
<text x="6.57" y="1253.70" font-size="37.43" fill="#FFFDF6" stroke="#FFFDF6" stroke-width="1.31" stroke-linejoin="round" text-anchor="middle">,</text>
<text x="23.05" y="1253.70" font-size="37.43" fill="#FFFDF6" stroke="#FFFDF6" stroke-width="1.31" stroke-linejoin="round" text-anchor="middle">9</text>
</g>
<g transform="translate(205.00 0) scale(0.9881 1)">
<text x="-30.44" y="1220.80" font-size="49.44" fill="#FFFDF6" stroke="#FFFDF6" stroke-width="1.73" stroke-linejoin="round" text-anchor="middle">2</text>
<path d="M-0.53 1185.70 L-6.90 1185.70 L-14.34 1190.30 L-14.34 1196.67 L-8.67 1193.49 L-8.67 1221.10 L-0.53 1221.10Z" fill="#FFFDF6" stroke="#FFFDF6" stroke-width="1.73045" stroke-linejoin="round"/>
<text x="8.67" y="1220.80" font-size="49.44" fill="#FFFDF6" stroke="#FFFDF6" stroke-width="1.73" stroke-linejoin="round" text-anchor="middle">,</text>
<text x="30.44" y="1220.80" font-size="49.44" fill="#FFFDF6" stroke="#FFFDF6" stroke-width="1.73" stroke-linejoin="round" text-anchor="middle">8</text>
</g>
<g transform="translate(65.00 0) scale(1.0526 1)">
<text x="-14.88" y="1223.20" font-size="34.92" fill="#1d1d1b" stroke="#1d1d1b" stroke-width="1.22" stroke-linejoin="round" text-anchor="middle">6</text>
<text x="-0.50" y="1223.20" font-size="34.92" fill="#1d1d1b" stroke="#1d1d1b" stroke-width="1.22" stroke-linejoin="round" text-anchor="middle">,</text>
<text x="14.88" y="1223.20" font-size="34.92" fill="#1d1d1b" stroke="#1d1d1b" stroke-width="1.22" stroke-linejoin="round" text-anchor="middle">2</text>
</g>
</svg>
<div class="t1">Population of European<br>Countries in 1923</div>
<div class="t2">(in million)</div>
<div class="wm">GeoData &amp;<br>Rankings</div>
</body></html>
